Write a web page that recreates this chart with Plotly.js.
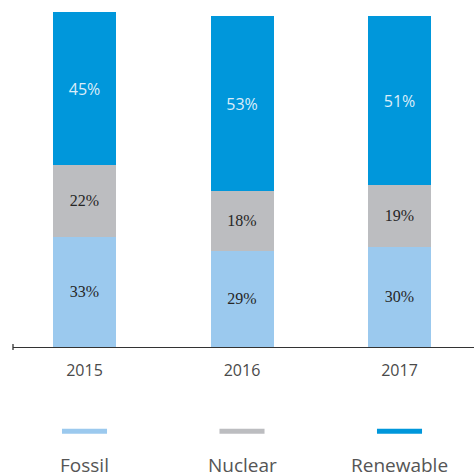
<!DOCTYPE html>
<html>
<head>
<meta charset="utf-8">
<script src="https://cdn.plot.ly/plotly-3.0.1.min.js"></script>
<style>html,body{margin:0;padding:0;background:#fff;}#chart{width:474px;height:474px;}</style>
</head>
<body>
<div id="chart"></div>
<script>
// Data (bar heights, arbitrary units; labels are shares)
const years = ["2015", "2016", "2017"];
const seriesNames = ["Fossil", "Nuclear", "Renewable"];
const fossil = [109.7, 95.7, 100];
const nuclear = [72.3, 60.3, 62];
const renewable = [153, 175, 169];
const fossilLabels = ["33%", "29%", "30%"];
const nuclearLabels = ["22%", "18%", "19%"];
const renewableLabels = ["45%", "53%", "51%"];
const colors = ["#9bc9ee", "#bcbdc0", "#0097db"];

const serif = "Liberation Serif, DejaVu Serif, serif";
const sans = "Open Sans, Lato, sans-serif";

function barTrace(vals, labels, name, color, font) {
  return {
    type: "bar", x: years, y: vals, name: name,
    marker: {color: color, line: {width: 0}},
    text: labels, textposition: "inside", insidetextanchor: "middle",
    textfont: font, hoverinfo: "none", width: 0.4
  };
}

const data = [
  barTrace(fossil, fossilLabels, seriesNames[0], colors[0], {family: serif, size: 16.5, color: "#262626"}),
  barTrace(nuclear, nuclearLabels, seriesNames[1], colors[1], {family: serif, size: 16.5, color: "#262626"}),
  barTrace(renewable, renewableLabels, seriesNames[2], colors[2], {family: sans, size: 16, color: "#dcedf9"})
];

const shapes = [];
const annotations = [];
seriesNames.forEach((n, i) => {
  shapes.push({type: "rect", xref: "x", yref: "paper",
    x0: i - 0.143, x1: i + 0.143, y0: -0.2437, y1: -0.2586,
    fillcolor: colors[i], line: {width: 0}});
  annotations.push({xref: "x", yref: "paper", x: i, y: -0.353,
    text: n, showarrow: false, xanchor: "center", yanchor: "middle",
    font: {family: sans, size: 19, color: "#555555"}});
});
// small end tick at axis left
shapes.push({type: "line", xref: "paper", yref: "paper", x0: 0, x1: 0,
  y0: 0.009, y1: -0.009, line: {color: "#333333", width: 1.3}});

const layout = {
  width: 474, height: 474,
  margin: {l: 13, r: 0, t: 12, b: 127},
  barmode: "stack",
  showlegend: false,
  paper_bgcolor: "#ffffff", plot_bgcolor: "#ffffff",
  xaxis: {type: "category", range: [-0.454, 2.473], showline: true,
    linecolor: "#333333", linewidth: 1.3, ticks: "", showgrid: false,
    zeroline: false, tickfont: {family: sans, size: 16, color: "#4a4a4a"},
    ticklabelstandoff: 8, fixedrange: true},
  yaxis: {range: [0, 335], visible: false, showgrid: false, zeroline: false, fixedrange: true},
  shapes: shapes,
  annotations: annotations,
  uniformtext: {mode: "show", minsize: 10}
};

Plotly.newPlot("chart", data, layout, {staticPlot: true, displayModeBar: false});
</script>
</body>
</html>
